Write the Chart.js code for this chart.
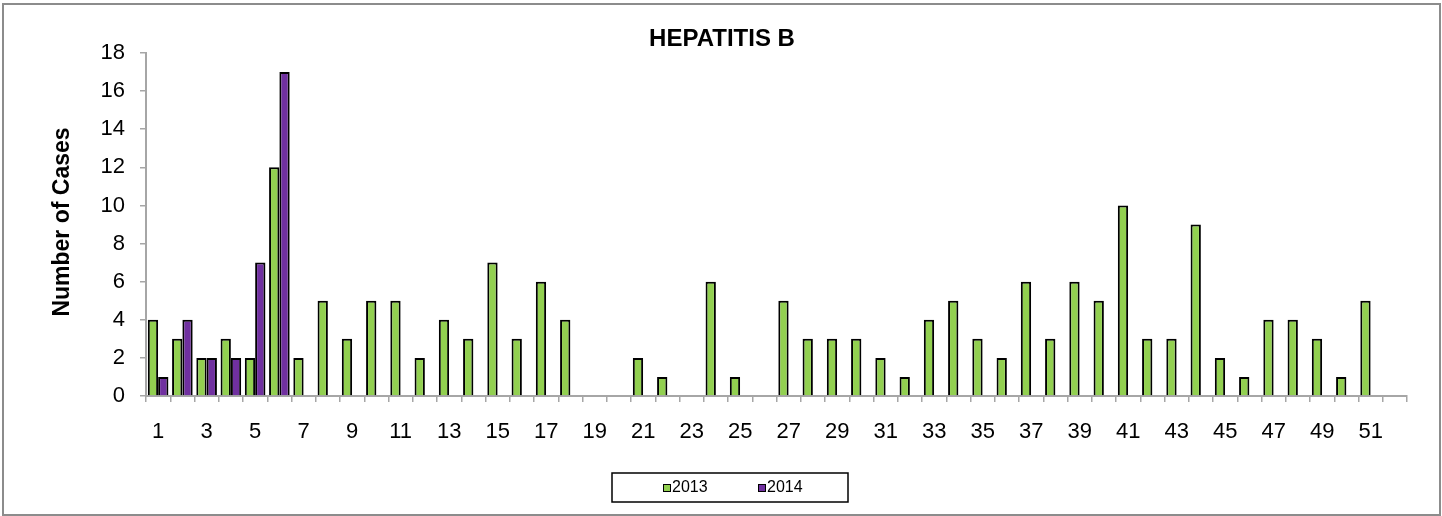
<!DOCTYPE html>
<html>
<head>
<meta charset="utf-8">
<script src="https://cdn.jsdelivr.net/npm/chart.js@4"></script>
<style>
  html, body { margin: 0; padding: 0; background: #fff; }
  #wrap { width: 1442px; height: 516px; position: relative; }
</style>
</head>
<body>
<div id="wrap"><canvas id="hepb" width="1442" height="516"></canvas></div>
<script>
// Hepatitis B cases by week
const weeks = Array.from({ length: 52 }, (_, i) => String(i + 1));

const cases2013 = [4, 3, 2, 3, 2, 12, 2, 5, 3, 5, 5, 2, 4, 3, 7, 3, 6, 4, 0, 0,
  2, 1, 0, 6, 1, 0, 5, 3, 3, 3, 2, 1, 4, 5, 3, 2, 6, 3, 6, 5,
  10, 3, 3, 9, 2, 1, 4, 4, 3, 1, 5, 0];

const cases2014 = [1, 4, 2, 2, 7, 17];

const yTicks = [0, 2, 4, 6, 8, 10, 12, 14, 16, 18];

const FONT = "'Liberation Sans', Arial, sans-serif";
const AXIS_GREY = '#a6a6a6';

// title, y axis title, legend box and outer frame
const decor = {
  id: 'decor',
  afterDraw(chart) {
    const c = chart.ctx;
    c.save();
    // outer frame
    c.strokeStyle = '#8c8c8c';
    c.lineWidth = 2;
    c.strokeRect(3, 4, 1437, 511);

    // chart title
    c.fillStyle = '#000';
    c.font = 'bold 24px ' + FONT;
    c.textAlign = 'center';
    c.textBaseline = 'middle';
    c.fillText('HEPATITIS B', 722, 39);

    // y axis title
    c.save();
    c.translate(63, 222);
    c.rotate(-Math.PI / 2);
    c.font = 'bold 23px ' + FONT;
    c.fillText('Number of Cases', 0, 0);
    c.restore();

    // legend
    c.strokeStyle = '#000';
    c.lineWidth = 1.5;
    c.strokeRect(612, 473, 236, 29);
    c.font = '16px ' + FONT;
    c.textAlign = 'left';
    const items = [
      { x: 663, label: chart.data.datasets[0].label, color: chart.data.datasets[0].backgroundColor },
      { x: 758, label: chart.data.datasets[1].label, color: chart.data.datasets[1].backgroundColor }
    ];
    items.forEach(it => {
      c.fillStyle = it.color;
      c.fillRect(it.x, 484, 7, 7);
      c.lineWidth = 1;
      c.strokeRect(it.x + 0.5, 484.5, 7, 7);
      c.fillStyle = '#000';
      c.fillText(it.label, it.x + 9, 488);
    });
    c.restore();
  }
};

const ctx = document.getElementById('hepb').getContext('2d');
const hepChart = new Chart(ctx, {
  type: 'bar',
  data: {
    labels: weeks,
    datasets: [{
      label: '2013',
      data: cases2013,
      backgroundColor: '#92d050',
      borderColor: '#000',
      borderWidth: 2,
      borderSkipped: 'start'
    }, {
      label: '2014',
      data: cases2014,
      backgroundColor: '#7030a0',
      borderColor: '#000',
      borderWidth: 2,
      borderSkipped: 'start'
    }]
  },
  options: {
    responsive: false,
    animation: false,
    events: [],
    layout: {
      padding: { top: 53, right: 35, bottom: 0, left: 0 }
    },
    datasets: {
      bar: {
        categoryPercentage: 0.85,
        barPercentage: 1.0
      }
    },
    plugins: {
      legend: { display: false },
      title: { display: false },
      tooltip: { enabled: false }
    },
    scales: {
      x: {
        afterFit: s => { s.height = 120; },
        grid: {
          offset: true,
          drawOnChartArea: false,
          drawTicks: true,
          tickLength: 6,
          color: AXIS_GREY,
          lineWidth: 1.5
        },
        border: { color: AXIS_GREY, width: 2 },
        ticks: {
          autoSkip: false,
          maxRotation: 0,
          padding: 17,
          color: '#000',
          font: { family: FONT, size: 22 },
          callback: function (val, i) {
            return i % 2 === 0 ? weeks[i] : '';
          }
        }
      },
      y: {
        min: 0,
        max: 18,
        afterFit: s => { s.width = 146; },
        afterBuildTicks: s => { s.ticks = yTicks.map(v => ({ value: v })); },
        grid: {
          drawOnChartArea: false,
          drawTicks: true,
          tickLength: 6,
          color: AXIS_GREY,
          lineWidth: 1.5
        },
        border: { color: AXIS_GREY, width: 2 },
        ticks: {
          padding: 15,
          color: '#000',
          font: { family: FONT, size: 22 }
        }
      }
    }
  },
  plugins: [decor]
});
</script>
</body>
</html>
